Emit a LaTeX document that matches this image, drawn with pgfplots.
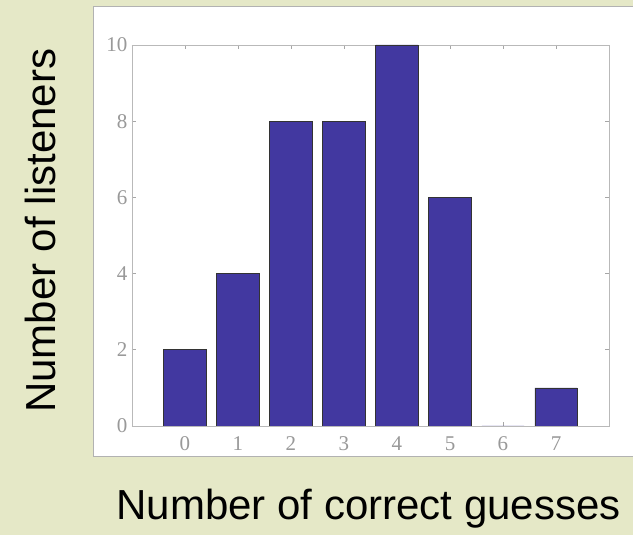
\documentclass[border=0pt]{standalone}
\usepackage{fontspec}
\setmainfont{Liberation Sans}
\newfontfamily\tickfont{Liberation Serif}
\usepackage{pgfplots}
\pgfplotsset{compat=1.18}
\definecolor{bgc}{RGB}{229,232,199}
\definecolor{barc}{RGB}{66,56,160}
\begin{document}
\begin{tikzpicture}[x=1pt,y=1pt]
\path[use as bounding box] (0,0) rectangle (633,535);
\fill[bgc] (0,0) rectangle (633,535);
\fill[white] (93,78) rectangle (633,528);
\draw[gray!60, line width=1pt] (633,528) -- (93,528) -- (93,78) -- (633,78);
\begin{axis}[
  at={(132pt,109pt)}, anchor=south west,
  scale only axis, width=477pt, height=381pt,
  xmin=-1, xmax=8, ymin=0, ymax=10,
  xtick={0,...,7}, ytick={0,2,...,10},
  axis line style={gray!55, line width=0.6pt},
  tick style={gray!70, line width=0.6pt},
  major tick length=4pt,
  /pgf/number format/assume math mode=true,
  tick label style={font=\tickfont\fontsize{21}{21}\selectfont, text=gray!80},
  xticklabel style={yshift=-7pt},
  yticklabel style={xshift=-1pt},
  xlabel={Number of correct guesses},
  ylabel={Number of listeners},
  label style={font=\fontsize{42}{42}\selectfont, text=black},
  xlabel style={at={(rel axis cs:0.496,-0.245)}, anchor=base},
  ylabel style={at={(rel axis cs:-0.192,0.512)}, anchor=center},
]
\addplot[ybar, bar width=0.8, fill=barc, draw=black!80, line width=0.6pt]
  coordinates {(0,2) (1,4) (2,8) (3,8) (4,10) (5,6) (6,0) (7,1)};
\draw[black!85, line width=0.9pt] (axis cs:-1,0) -- (axis cs:8,0);
\end{axis}
\end{tikzpicture}
\end{document}
